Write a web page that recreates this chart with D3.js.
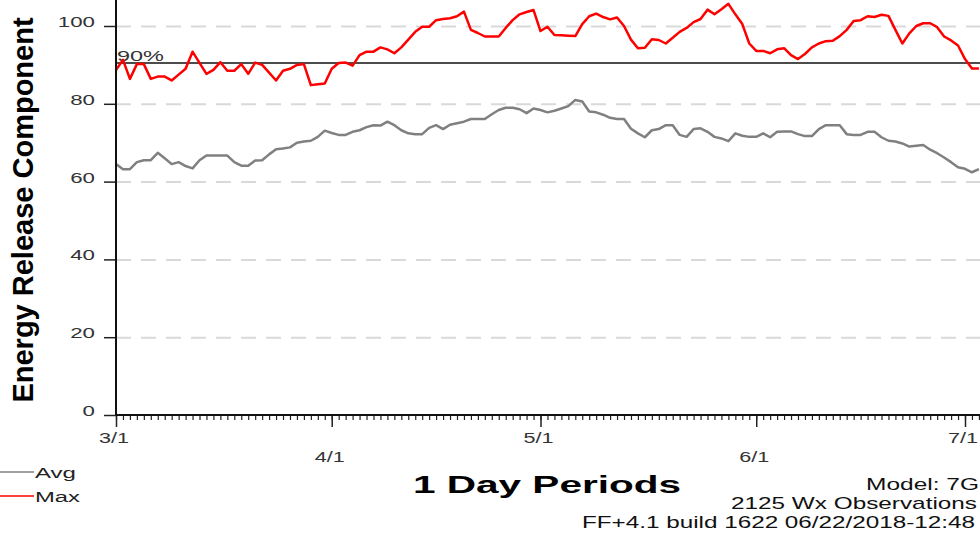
<!DOCTYPE html>
<html>
<head>
<meta charset="utf-8">
<script src="https://cdn.jsdelivr.net/npm/d3@7"></script>
<style>
  body { margin: 0; background: #fff; }
  svg { display: block; }
  text { font-family: "Liberation Sans", Arial, sans-serif; }
</style>
</head>
<body>
<svg id="chart" width="980" height="534"></svg>
<script>
// daily values from 3/1 onwards
var maxVals = [
  88.7, 91.3, 86.4, 90.2, 90.2, 86.4, 87, 87, 86, 87.5,
  89, 93.4, 90.5, 87.7, 88.7, 90.7, 88.5, 88.5, 90.2, 87.7,
  90.6, 90, 88, 86, 88.5, 89, 90, 90.2, 84.8, 85,
  85.2, 89, 90.5, 90.6, 89.8, 92.5, 93.4, 93.4, 94.5, 94,
  93, 94.5, 96.5, 98.5, 99.8, 99.8, 101.5, 101.8, 102, 102.5,
  103.7, 99, 98.2, 97.3, 97.3, 97.3, 99.5, 101.5, 103, 103.6,
  104.1, 98.7, 99.8, 97.7, 97.6, 97.5, 97.4, 100.5, 102.5, 103.2,
  102.3, 101.7, 102.2, 100, 96.5, 94.3, 94.4, 96.6, 96.4, 95.5,
  97, 98.5, 99.5, 101, 101.8, 104.2, 103, 104.3, 105.7, 103,
  100.5, 95.5, 93.6, 93.6, 93, 94, 94.3, 92.5, 91.5, 92.8,
  94.5, 95.5, 96.1, 96.2, 97.4, 99, 101.3, 101.5, 102.5, 102.3,
  102.9, 102.6, 99, 95.5, 98.1, 100, 100.7, 100.7, 99.7, 97.3,
  96.3, 95, 91.5, 89.1, 89.1
];

var avgVals = [
  64.5, 63.2, 63.2, 65, 65.5, 65.5, 67.4, 66, 64.5, 65,
  64, 63.4, 65.5, 66.7, 66.7, 66.7, 66.7, 65, 64.1, 64.1,
  65.4, 65.5, 67, 68.3, 68.5, 68.8, 70, 70.3, 70.5, 71.5,
  73.1, 72.5, 72, 72, 72.8, 73.2, 74, 74.5, 74.4, 75.4,
  74.5, 73.2, 72.4, 72.2, 72.2, 73.8, 74.5, 73.5, 74.6, 75,
  75.4, 76.1, 76.1, 76.1, 77.3, 78.4, 79, 79, 78.6, 77.6,
  78.8, 78.4, 77.8, 78.2, 78.8, 79.4, 81, 80.6, 78, 77.8,
  77.2, 76.4, 76.1, 76.1, 73.6, 72.4, 71.4, 73.2, 73.5, 74.5,
  74.5, 72, 71.5, 73.5, 73.7, 72.8, 71.5, 71.1, 70.4, 72.4,
  71.8, 71.5, 71.5, 72.4, 71.4, 72.8, 72.9, 72.9, 72.2, 71.7,
  71.7, 73.5, 74.5, 74.5, 74.5, 72.2, 72, 72, 72.8, 72.8,
  71.4, 70.5, 70.3, 69.8, 69, 69.2, 69.4, 68.2, 67.3, 66.2,
  65, 63.7, 63.3, 62.4, 63.2
];

var yTicks = [0, 20, 40, 60, 80, 100];
var gridTicks = [20, 40, 60, 80, 100];
var monthLabels = ["3/1", "4/1", "5/1", "6/1", "7/1"];
var monthDates = [
  new Date(Date.UTC(2018, 2, 1)),
  new Date(Date.UTC(2018, 3, 1)),
  new Date(Date.UTC(2018, 4, 1)),
  new Date(Date.UTC(2018, 5, 1)),
  new Date(Date.UTC(2018, 6, 1))
];
var pct90 = 90.5;
var legendItems = [
  {name: "Avg", color: "#808080"},
  {name: "Max", color: "#ff0000"}
];
var footLines = ["Model: 7G", "2125 Wx Observations", "FF+4.1 build 1622 06/22/2018-12:48"];

var left = 116, right = 980, bottom = 415;

var svg = d3.select("#chart");

var start = monthDates[0];
var dates = maxVals.map(function(d, i) { return d3.utcDay.offset(start, i); });

var x = d3.scaleUtc().domain([monthDates[0], monthDates[4]]).range([left, 965]);
var y = d3.scaleLinear().domain([0, 100]).range([bottom, 26]);

// dashed gridlines
var grid = svg.append("g")
  .attr("transform", "translate(" + left + ",0)")
  .call(d3.axisLeft(y).tickValues(gridTicks).tickSize(-(right - left)).tickFormat(""));
grid.select(".domain").remove();
grid.selectAll("line")
  .attr("stroke", "#d9d9d9")
  .attr("stroke-width", 2)
  .attr("stroke-dasharray", "15,10");

// y ticks
var yAx = svg.append("g")
  .attr("transform", "translate(" + left + ",0)")
  .call(d3.axisLeft(y).tickValues(yTicks).tickSize(12).tickFormat(""));
yAx.select(".domain").remove();
yAx.selectAll("line").attr("stroke", "#222").attr("stroke-width", 1.5);

svg.append("g").selectAll("text")
  .data(yTicks)
  .enter().append("text")
    .attr("x", 95)
    .attr("y", function(d) { return y(d) + 1; })
    .attr("text-anchor", "end")
    .attr("font-size", 14)
    .attr("fill", "#333")
    .attr("textLength", function(d) { return String(d).length * 12.4; })
    .attr("lengthAdjust", "spacingAndGlyphs")
    .text(function(d) { return d; });

// x ticks, one per day, longer at month starts
var lastDay = dates[dates.length - 1];
var xMinor = svg.append("g")
  .attr("transform", "translate(0," + bottom + ")")
  .call(d3.axisBottom(x).tickValues(d3.utcDay.range(start, d3.utcDay.offset(lastDay, 1))).tickSize(5).tickFormat(""));
xMinor.select(".domain").remove();
xMinor.selectAll("line").attr("stroke", "#222").attr("stroke-width", 1.2);

var xMajor = svg.append("g")
  .attr("transform", "translate(0," + bottom + ")")
  .call(d3.axisBottom(x).tickValues(monthDates).tickSize(12).tickFormat(""));
xMajor.select(".domain").remove();
xMajor.selectAll("line").attr("stroke", "#222").attr("stroke-width", 1.5);

svg.append("g").selectAll("text")
  .data(monthLabels)
  .enter().append("text")
    .attr("x", function(d, i) { return x(monthDates[i]) - 2; })
    .attr("y", function(d, i) { return i % 2 === 0 ? 443 : 462; })
    .attr("text-anchor", "middle")
    .attr("font-size", 14)
    .attr("fill", "#333")
    .attr("textLength", 30)
    .attr("lengthAdjust", "spacingAndGlyphs")
    .text(function(d) { return d; });

// 90% reference line
svg.append("line")
  .attr("x1", left).attr("x2", right)
  .attr("y1", y(pct90)).attr("y2", y(pct90))
  .attr("stroke", "#111")
  .attr("stroke-width", 1.5);

svg.append("text")
  .attr("x", left + 1)
  .attr("y", y(pct90) - 1.5)
  .attr("font-size", 15)
  .attr("fill", "#333")
  .attr("textLength", 47)
  .attr("lengthAdjust", "spacingAndGlyphs")
  .text("90%");

// series
var line = d3.line()
  .x(function(d, i) { return x(dates[i]); })
  .y(function(d) { return y(d); });

svg.append("path")
  .datum(avgVals)
  .attr("fill", "none")
  .attr("stroke", legendItems[0].color)
  .attr("stroke-width", 2.5)
  .attr("stroke-linejoin", "round")
  .attr("d", line);

svg.append("path")
  .datum(maxVals)
  .attr("fill", "none")
  .attr("stroke", legendItems[1].color)
  .attr("stroke-width", 2.5)
  .attr("stroke-linejoin", "round")
  .attr("d", line);

// axis frame
svg.append("line")
  .attr("x1", left).attr("x2", left)
  .attr("y1", 0).attr("y2", bottom)
  .attr("stroke", "#111").attr("stroke-width", 2);
svg.append("line")
  .attr("x1", left).attr("x2", right)
  .attr("y1", bottom).attr("y2", bottom)
  .attr("stroke", "#111").attr("stroke-width", 2);

// titles
svg.append("text")
  .attr("transform", "translate(33,210) rotate(-90)")
  .attr("text-anchor", "middle")
  .attr("font-size", 29)
  .attr("font-weight", "bold")
  .attr("fill", "#000")
  .text("Energy Release Component");

svg.append("text")
  .attr("x", 413)
  .attr("y", 493)
  .attr("font-size", 24)
  .attr("font-weight", "bold")
  .attr("fill", "#000")
  .attr("textLength", 268)
  .attr("lengthAdjust", "spacingAndGlyphs")
  .text("1 Day Periods");

// legend
var leg = svg.append("g").selectAll("g")
  .data(legendItems)
  .enter().append("g")
    .attr("transform", function(d, i) { return "translate(0," + (472 + i * 24) + ")"; });
leg.append("line")
  .attr("x1", 0).attr("x2", 34)
  .attr("stroke", function(d) { return d.color; })
  .attr("stroke-width", 1.5);
leg.append("text")
  .attr("x", 35)
  .attr("y", 6)
  .attr("font-size", 14)
  .attr("fill", "#222")
  .attr("textLength", function(d, i) { return i === 0 ? 41 : 45; })
  .attr("lengthAdjust", "spacingAndGlyphs")
  .text(function(d) { return d.name; });

// footer info
var footWidths = [113, 246, 393];
var footRight = [979, 977, 975];
svg.append("g").selectAll("text")
  .data(footLines)
  .enter().append("text")
    .attr("x", function(d, i) { return footRight[i]; })
    .attr("y", function(d, i) { return 490 + i * 19; })
    .attr("text-anchor", "end")
    .attr("font-size", 17)
    .attr("fill", "#111")
    .attr("textLength", function(d, i) { return footWidths[i]; })
    .attr("lengthAdjust", "spacingAndGlyphs")
    .text(function(d) { return d; });
</script>
</body>
</html>
